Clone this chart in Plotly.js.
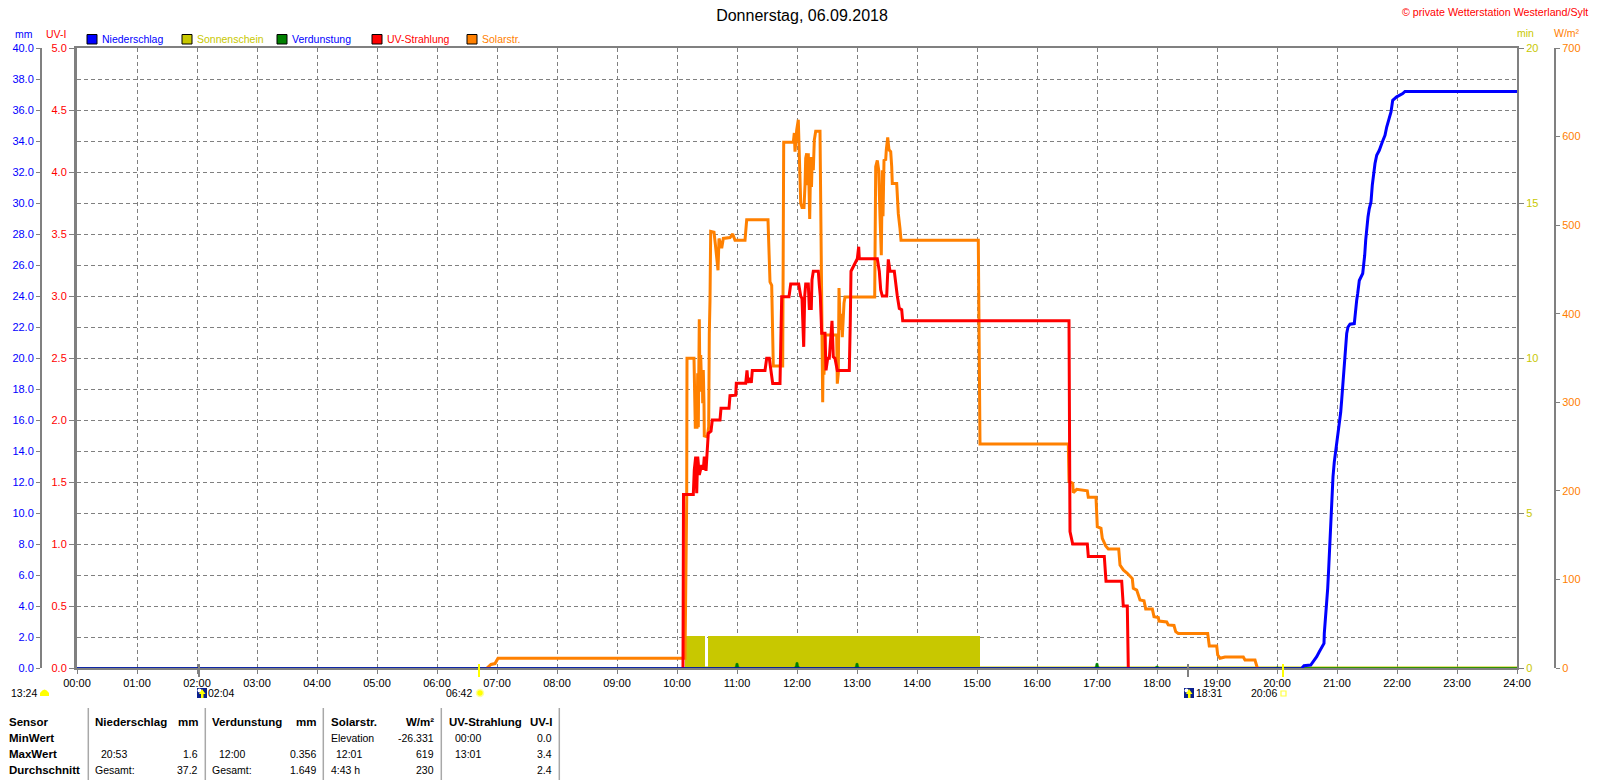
<!DOCTYPE html>
<html><head><meta charset="utf-8">
<script src="https://cdn.plot.ly/plotly-3.0.1.min.js"></script>
<style>html,body{margin:0;padding:0;background:#fff}#c{width:1600px;height:780px}</style>
</head><body><div id="c"></div>
<script>
// ---- data (x = minutes after midnight) ----
const hourLabels = ["00:00","01:00","02:00","03:00","04:00","05:00","06:00","07:00","08:00","09:00","10:00","11:00","12:00","13:00","14:00","15:00","16:00","17:00","18:00","19:00","20:00","21:00","22:00","23:00","24:00"];
const hourTicks = hourLabels.map((_, i) => i * 60);

const rainZeroT = [0, 1225];
const rainZeroV = [0, 0];
const rainT = [1225,1227,1233.7,1236.3,1239.7,1242.3,1244.7,1247,1247.3,1248.7,1249.7,1250.7,1251.7,1252.7,1253.7,1254.7,1256,1257.3,1258.7,1260.7,1262,1263.7,1264.7,1265.7,1266.5,1267.7,1268.7,1269.7,1271,1273,1277.3,1278.3,1279.7,1280.7,1282.3,1285.7,1286.7,1287.7,1288.7,1289.7,1291,1292.3,1294,1295.3,1296.7,1298,1299.7,1302.3,1305.3,1308,1309.7,1312,1314,1315.7,1319.7,1325.7,1328,1440];
const rainV = [0,0.15,0.19,0.41,0.73,1.05,1.38,1.59,2.24,3.3,4.17,5.14,6.43,7.93,9.55,11.05,12.34,13.3,13.96,15.03,15.78,16.5,17.3,18.15,19.0,20.07,20.83,21.58,22.0,22.18,22.22,22.98,23.73,24.16,25.0,25.45,25.88,26.63,27.6,28.46,29.1,29.64,30.07,31.15,31.9,32.55,33.08,33.4,33.94,34.37,34.9,35.45,35.88,36.63,36.85,37.06,37.2,37.2];

const sunT = [608,608,628,628,631,631,903,903];
const sunV = [0,1.03,1.03,0,0,1.03,1.03,0];
const sunBaseT = [608,1440];
const sunBaseV = [0,0];

const evapHours = [660,720,780,1020,1080,1140,1200];
const evapV = [0.3,0.356,0.3,0.3,0.12,0.08,0.08];
const evapBaseT = [0,1440];
const evapBaseV = [0,0];

const uvT = [606,606.5,607.3,616.3,617.3,618.7,619.7,620.7,622.3,624.7,626.3,627.3,629,630.3,631.3,634,635.3,643,644,652,653,658.7,659.3,668.7,670,671,673,674.3,675.3,688,689.7,692.3,694,695.7,703,704,704.7,712,713.7,721.7,723.7,725,726.7,727.7,728.7,731.3,732.3,734.3,735,736.3,741.3,742.3,743.3,744.7,748,749,750.7,752.3,755,756.3,758,760.3,772.3,773.3,774,780.3,781.7,782.3,800.3,802.3,803.7,805.3,809.7,811.3,813,817.3,818.7,820.3,822.3,824.7,825.7,992,993,994.7,995.7,1010.3,1011.3,1027.3,1028.3,1029,1044.7,1045.7,1046.3,1050.3,1051,1051.3];
const uvV = [0,1.4,1.4,1.4,1.6,1.705,1.41,1.705,1.557,1.637,1.6,1.705,1.59,1.745,1.893,1.91,2.0,2.0,2.094,2.094,2.196,2.2,2.296,2.296,2.4,2.3,2.34,2.3,2.4,2.4,2.497,2.497,2.39,2.295,2.295,2.64,2.994,2.994,3.096,3.096,3.0,2.98,2.59,3.0,3.096,3.096,2.9,2.9,3.13,3.2,3.2,3.09,3.0,2.7,2.7,2.4,2.497,2.497,2.8,2.51,2.497,2.4,2.4,2.8,3.2,3.3,3.397,3.3,3.3,3.2,3.05,3.0,3.0,3.295,3.2,3.2,3.1,3.0,2.9,2.89,2.8,2.8,1.1,1.05,1.0,1.0,0.9,0.9,0.79,0.7,0.7,0.6,0.5,0.5,0.25,0];

const solarT = [410,414,418,421,605,608,609.7,610,617,617.3,618.3,620,620.7,621.3,622.3,623,623.7,624.7,625.3,625.7,626.3,627,627.3,630.3,631.7,632.3,633,633.7,637,638.3,640,641,642,644.7,646.3,653,655.7,658,668,668.5,669.7,691,691.7,693,694.7,695.3,696.3,705.7,706,706.7,716.3,717.3,718,719.7,721.3,722.7,723.7,725,727,728,728.7,729.7,730.5,731.3,732.7,733.7,734.5,735.3,736.3,737.3,738.7,743,744,744.7,745.7,746.3,747,748,759.7,760.3,761.3,762,763.3,764.3,765.3,767,768,797.7,798,798.7,800.3,801.7,803,804.3,805.3,806,807,808.7,809.3,810.7,812,813.7,814.7,815.3,819.7,820.3,821.3,823,824,901.3,902,903,991.3,991.6,992,995.7,996.3,999.7,1010.3,1011.3,1019,1020.3,1024,1025.3,1028.7,1031.3,1041.7,1043,1046.3,1050.3,1055.3,1056.3,1059.7,1063,1067,1068.7,1075.3,1077,1081.3,1082,1089.7,1091.3,1097,1098.7,1101.3,1130.7,1132.3,1139.7,1140.7,1143,1148,1166.3,1168,1178,1179.7,1180.3];
const solarV = [0,4,5,11,11,11,190,349.6,349.6,310,271.7,271.7,332.7,271.7,393.7,312,353.4,314,336.5,298.8,336.5,298.8,262,261,272.5,377.9,415,493,492,479,462,449,485,474,485,486,490,483,483,494,506,506,474,436,432,387,341,341,466,593.5,593.5,604,583,607.5,619,573.6,525,520,520,545,575.5,581,545,581,507,577,543,577,562,596,606,606,483,378,300,376,331,376,376,321,333,429,381.6,400,373.4,412,419,419,493,566,573,562,510,466,562,510,573,574,585,599,585,583,566,547,547,531,513,496,483,483,367,253,253,231,210.4,208.5,198,201.7,200,192.7,192.7,159.6,157.7,146.4,137.8,134.4,134.4,116.3,110.7,107,101,90,88,76.8,76,66.7,66.7,58,57,53,52,48.6,48,41,39,39,24.9,24.9,14.7,11,12.5,12.5,9,9,2,0];

// ---- texts ----
const titleText = "Donnerstag, 06.09.2018";
const copyrightText = "© private Wetterstation Westerland/Sylt";
const legendNames = ["Niederschlag","Sonnenschein","Verdunstung","UV-Strahlung","Solarstr."];
const legendTextColors = ["#0000ff","#c8c800","#0000ff","#ff0000","#ff8000"];
const legendSwatchColors = ["#0000ff","#c8c800","#008000","#ff0000","#ff8000"];
const sensorLabels = ["Sensor","MinWert","MaxWert","Durchschnitt"];
const rainCol = [["Niederschlag","mm"],["",""],["20:53","1.6"],["Gesamt:","37.2"]];
const evapCol = [["Verdunstung","mm"],["",""],["12:00","0.356"],["Gesamt:","1.649"]];
const solarCol = [["Solarstr.","W/m²"],["Elevation","-26.331"],["12:01","619"],["4:43 h","230"]];
const uvCol = [["UV-Strahlung","UV-I"],["00:00","0.0"],["13:01","3.4"],["","2.4"]];
const astroTicks = [{t:122,c:"#808080"},{t:402,c:"#ffff00"},{t:1111,c:"#808080"},{t:1206,c:"#ffff00"}];

// ---- page geometry ----
const W=1600,H=780,L=77,R=1517,T=48,B=668;
const fx=p=>p/W, fy=p=>1-p/H;
const FONT='"Liberation Sans", Arial, sans-serif';
const GRAY='#808080';

const ann=[], shp=[];
function txt(text,x,y,color,size,anchor,bold){
  ann.push({text:bold?'<b>'+text+'</b>':text,x:fx(x),y:fy(y),xref:'paper',yref:'paper',showarrow:false,
    xanchor:anchor||'left',yanchor:'middle',font:{family:FONT,size:size||11,color:color||'#000'},borderpad:0,borderwidth:0});
}
function rect(x0,y0,x1,y1,fill,line){
  shp.push({type:'rect',xref:'paper',yref:'paper',x0:fx(x0),x1:fx(x1),y0:fy(y0),y1:fy(y1),fillcolor:fill,
    line:line?{color:line,width:1}:{width:0}});
}
function vline(x,y0,y1,color,w){
  shp.push({type:'line',xref:'paper',yref:'paper',x0:fx(x),x1:fx(x),y0:fy(y0),y1:fy(y1),line:{color:color,width:w}});
}

txt(copyrightText,1588,12,'#ff0000',10.7,'right');
txt('mm',15,34,'#0000ff',10.5);
txt('UV-I',46,34,'#ff0000',10.5);
txt('min',1517,33,'#c8c800',10.5);
txt('W/m²',1554,33,'#ff8000',10.5);

const swX=[87,182,277,372,467];
legendNames.forEach((n,i)=>{
  rect(swX[i],34.5,swX[i]+10,44,legendSwatchColors[i],'#000');
  txt(n,swX[i]+14.5,38.5,legendTextColors[i],10.5);
});

// table
const sep=[88.3,205.3,323.3,441.3,559.3];
sep.forEach(x=>vline(x,708,780,'#a8a8a8',1.5));
const rowY=[722,738,753.7,770];
const GR=10.5, BD=11.5;
sensorLabels.forEach((s,i)=>txt(s,8.7,rowY[i],'#000',BD,'left',true));
function col(rows,xL,xR,xLm){
  rows.forEach((r,i)=>{
    const hdr=i===0;
    if(r[0]) txt(r[0],(i===2)?xLm:xL,rowY[i],'#000',hdr?BD:GR,'left',hdr);
    if(r[1]) txt(r[1],xR,rowY[i],'#000',hdr?BD:GR,'right',hdr);
  });
}
col(rainCol,95,198,100.7);
col(evapCol,212,316,218.6);
col(solarCol,330.7,434,336.4);
col(uvCol,454.6,551.5,454.6);
ann.forEach(a=>{ if(a.text.indexOf('UV-Strahlung')>=0 && a.y<0.1) a.x=fx(448.6); });

// astro marks
astroTicks.forEach(a=>vline(L+a.t,664,677,a.c,2));
txt('13:24',11,693.3,'#000',10.5);
txt('02:04',208,693.3,'#000',10.5);
txt('06:42',446,693.3,'#000',10.5);
txt('18:31',1196,693.3,'#000',10.5);
txt('20:06',1251,693.3,'#000',10.5);
// half sun
shp.push({type:'path',xref:'paper',yref:'paper',fillcolor:'#ffff00',line:{width:0},
  path:`M ${fx(40)} ${fy(696)} L ${fx(40)} ${fy(693)} Q ${fx(44.5)} ${fy(686)} ${fx(49)} ${fy(693)} L ${fx(49)} ${fy(696)} Z`});
// moon icons
function moon(x){
  rect(x,688,x+10,698,'#0a1f8f');
  shp.push({type:'circle',xref:'paper',yref:'paper',x0:fx(x+0.5),x1:fx(x+4.5),y0:fy(688.5),y1:fy(692.5),fillcolor:'#ffffff',line:{width:0}});
  shp.push({type:'path',xref:'paper',yref:'paper',fillcolor:'#ffff00',line:{width:0},
    path:`M ${fx(x+5)} ${fy(689)} L ${fx(x+8.5)} ${fy(694)} L ${fx(x+6.5)} ${fy(694)} L ${fx(x+6.5)} ${fy(698)} L ${fx(x+4)} ${fy(698)} L ${fx(x+4)} ${fy(694)} L ${fx(x+2)} ${fy(694)} Z`});
}
moon(197); moon(1184);
// rising sun
shp.push({type:'circle',xref:'paper',yref:'paper',x0:fx(476.5),x1:fx(483.5),y0:fy(689.5),y1:fy(696.5),fillcolor:'#ffff00',line:{color:'#ffffa0',width:1.5}});
// setting sun
shp.push({type:'rect',xref:'paper',yref:'paper',x0:fx(1281),x1:fx(1286),y0:fy(691),y1:fy(696),fillcolor:'#fff',line:{color:'#ffff40',width:1.2}});

// ---- traces: paint order follows the axis number
// y = min, y2 = mm (evaporation, grid), y3 = W/m², y4 = UV-I, y5 = mm (rain, labelled)
const evapPeakX=[], evapPeakY=[];
evapHours.forEach((t,i)=>{ evapPeakX.push(t-3,t-1.5,t-1,t+1,t+1.5,t+3,null); evapPeakY.push(0,evapV[i]*0.4,evapV[i],evapV[i],evapV[i]*0.4,0,null); });
const traces=[
 {name:'Sonnenschein',x:sunT,y:sunV,yaxis:'y',mode:'lines',line:{color:'#c8c800',width:0},fill:'tozeroy',fillcolor:'#c8c800',cliponaxis:false},
 {name:'Sonnenschein0',x:sunBaseT,y:sunBaseV,yaxis:'y',mode:'lines',line:{color:'#c8c800',width:3},cliponaxis:false},
 {name:'Verdunstung',x:evapPeakX,y:evapPeakY,yaxis:'y2',mode:'lines',line:{color:'#008000',width:0.5},fill:'toself',fillcolor:'#008000',cliponaxis:false},
 {name:'Verdunstung0',x:evapBaseT,y:evapBaseV,yaxis:'y2',mode:'lines',line:{color:'#008000',width:1.5},cliponaxis:false},
 {name:'Solarstr.',x:solarT,y:solarV,yaxis:'y3',mode:'lines',line:{color:'#ff8000',width:3},cliponaxis:false},
 {name:'UV-Strahlung',x:uvT,y:uvV,yaxis:'y4',mode:'lines',line:{color:'#ff0000',width:3},cliponaxis:false},
 {name:'Niederschlag0',x:rainZeroT,y:rainZeroV,yaxis:'y5',mode:'lines',line:{color:'#0000c8',width:1.5},cliponaxis:false},
 {name:'Niederschlag',x:rainT,y:rainV,yaxis:'y5',mode:'lines',line:{color:'#0000ff',width:3},cliponaxis:false}
];

const dom=[fy(B),fy(T)];
const tf=c=>({family:FONT,size:11,color:c});
const layout={
  width:W,height:H,margin:{l:0,r:0,t:0,b:0,pad:0},paper_bgcolor:'#fff',plot_bgcolor:'#fff',showlegend:false,
  title:{text:titleText,x:fx(802),y:fy(15.5),xanchor:'center',yanchor:'middle',xref:'paper',yref:'paper',font:{family:FONT,size:16,color:'#000'}},
  xaxis:{domain:[fx(L),fx(R)],range:[0,1440],tickmode:'array',tickvals:hourTicks,ticktext:hourLabels,showgrid:true,griddash:'4px,3px',gridcolor:GRAY,gridwidth:1,
    showline:true,linecolor:GRAY,linewidth:2,mirror:true,ticks:'outside',ticklen:4,tickcolor:GRAY,tickfont:tf('#000'),zeroline:false,layer:'below traces',ticklabelstandoff:0},
  yaxis:{domain:dom,range:[0,20],dtick:5,tickfont:tf('#c8c800'),showgrid:false,zeroline:false,showline:true,linecolor:GRAY,linewidth:2,ticks:'outside',ticklen:5,tickcolor:GRAY,anchor:'x',side:'right',layer:'below traces'},
  yaxis2:{domain:dom,range:[0,40],dtick:2,showticklabels:false,ticks:'',showline:false,showgrid:true,griddash:'4px,3px',gridcolor:GRAY,gridwidth:1,zeroline:false,anchor:'x',overlaying:'y',side:'left',layer:'below traces'},
  yaxis3:{domain:dom,range:[0,700],dtick:100,tickfont:tf('#ff8000'),showgrid:false,zeroline:false,showline:true,linecolor:GRAY,linewidth:2,ticks:'outside',ticklen:4,tickcolor:GRAY,anchor:'free',position:fx(1555),overlaying:'y',side:'right',layer:'below traces'},
  yaxis4:{domain:dom,range:[0,5],dtick:0.5,tickformat:'.1f',tickfont:tf('#ff0000'),showgrid:false,zeroline:false,showline:true,linecolor:GRAY,linewidth:3,ticks:'outside',ticklen:5,tickcolor:GRAY,layer:'below traces',anchor:'x',overlaying:'y',side:'left'},
  yaxis5:{domain:dom,range:[0,40],dtick:2,tickformat:'.1f',tickfont:tf('#0000ff'),showgrid:false,zeroline:false,showline:true,linecolor:GRAY,linewidth:2,ticks:'outside',ticklen:4,tickcolor:GRAY,anchor:'free',position:fx(41),overlaying:'y',side:'left',layer:'below traces'},
  annotations:ann,shapes:shp,hovermode:false
};
Plotly.newPlot('c',traces,layout,{displayModeBar:false,responsive:false});
</script></body></html>
